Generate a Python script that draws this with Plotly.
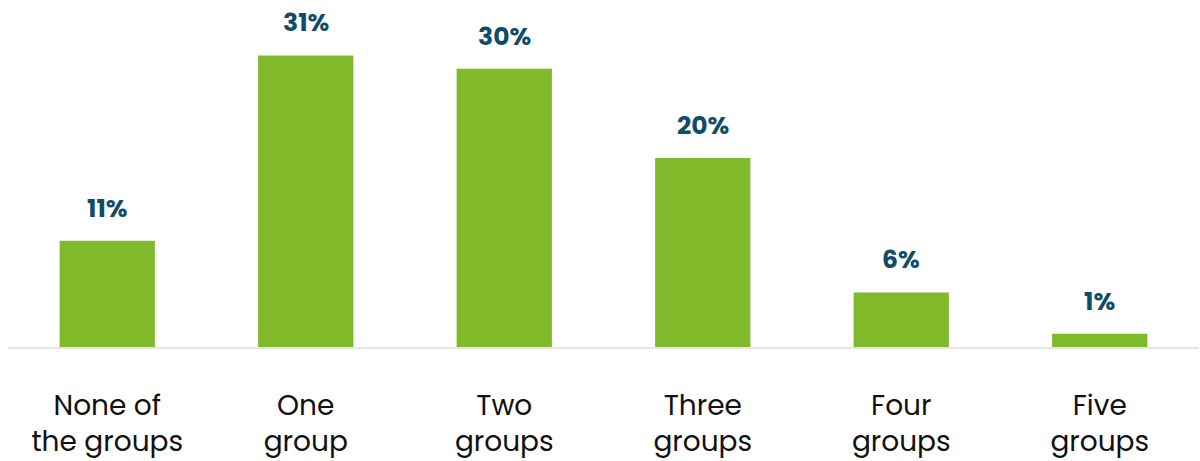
import plotly.graph_objects as go

categories = ["None of<br>the groups", "One<br>group", "Two<br>groups", "Three<br>groups", "Four<br>groups", "Five<br>groups"]
values = [11.3, 31.0, 29.6, 20.1, 5.8, 1.4]
labels = ["11%", "31%", "30%", "20%", "6%", "1%"]

bar_color = "#80ba2b"
label_color = "#0e4c69"

fig = go.Figure()
fig.add_trace(go.Bar(
    x=categories, y=values,
    marker=dict(color=bar_color, line=dict(width=0)),
    width=0.48,
    hoverinfo="skip",
))

for c, v, t in zip(categories, values, labels):
    fig.add_annotation(
        x=c, y=v, text="<b>" + t + "</b>", showarrow=False,
        yanchor="bottom", yshift=13,
        font=dict(family="Poppins, Inter, sans-serif", size=25, color=label_color),
    )

fig.update_layout(
    width=1200, height=461,
    margin=dict(l=8, r=1, t=0, b=114),
    plot_bgcolor="white", paper_bgcolor="white",
    showlegend=False,
    bargap=0.52,
    xaxis=dict(
        showline=True, linecolor="#e6e6e6", linewidth=2,
        showgrid=False, ticks="",
        tickfont=dict(family="Poppins, Inter, sans-serif", size=28, color="#111111"),
        ticklabelstandoff=32,
    ),
    yaxis=dict(
        range=[0, 36.9], showgrid=False, zeroline=False,
        showticklabels=False, showline=False,
    ),
)

fig.write_html("out.html")
